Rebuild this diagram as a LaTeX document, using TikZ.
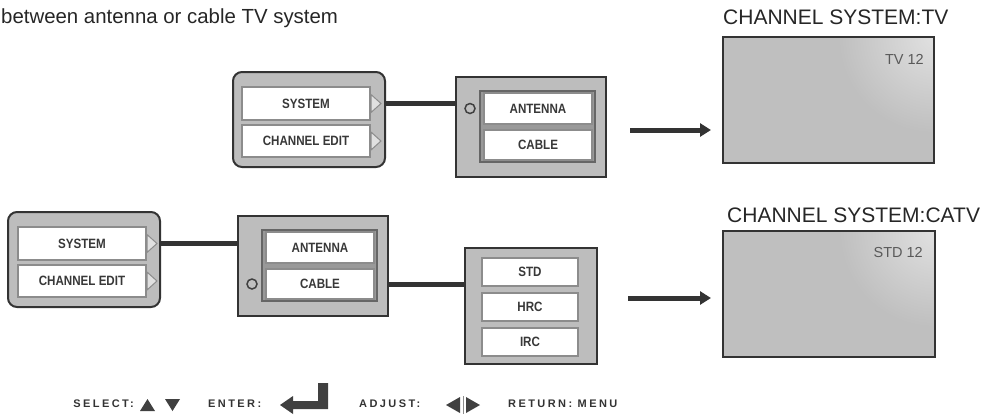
\documentclass[tikz,border=0pt]{standalone}
\usepackage{fontspec}
\setmainfont{Liberation Sans}
\newfontfamily\menufont[FakeStretch=0.86]{Liberation Sans}
\newfontfamily\keyfont[LetterSpace=22]{Liberation Sans}
\usetikzlibrary{arrows.meta,calc}
\begin{document}
\begin{tikzpicture}[x=1pt,y=-1pt,
  mbox/.style={draw=black!80,line width=2pt,fill=black!26,inner sep=0pt,outer sep=0pt},
  rbox/.style={mbox,rounded corners=9pt},
  item/.style={draw=black!45,line width=1.6pt,fill=white,inner sep=0pt,outer sep=0pt,
    font=\menufont\bfseries\fontsize{13.5}{13.5}\selectfont,text=black!78},
  inframe/.style={draw=black!60,line width=1.2pt,fill=black!40,inner sep=0pt,outer sep=0pt},
  selmark/.style={circle,draw=black!75,line width=1.5pt,fill=black!25,minimum size=10pt,inner sep=0pt},
  conn/.style={line width=5pt,draw=black!80},
  bigarrow/.style={line width=5pt,draw=black!80,-{Triangle[length=11pt,width=13pt]}},
  screen/.style={draw=black!80,line width=2pt,fill=black!25,inner sep=0pt,outer sep=0pt},
  title/.style={font=\fontsize{21}{21}\selectfont,text=black!85,inner sep=0pt,anchor=west},
  chan/.style={font=\fontsize{14.5}{14.5}\selectfont,text=black!65,inner sep=0pt,anchor=east},
  keytxt/.style={font=\keyfont\bfseries\fontsize{11}{11}\selectfont,text=black!80,inner sep=0pt,anchor=west},
  tri/.style={draw=black!45,fill=black!12,line width=1pt},
  icon/.style={fill=black!75}]
\useasboundingbox (0,0) rectangle (989,416);

% intro text
\node[anchor=west,inner sep=0pt,font=\fontsize{20.4}{20.4}\selectfont,text=black!85] (intro) at (1,18) {between antenna or cable TV system};

% ---------- top row ----------
\node[rbox,minimum width=152pt,minimum height=95pt] (b1) at (309,119.5) {};
\node[item,minimum width=128pt,minimum height=33pt] (b1sys) at (306,103.5) {SYSTEM};
\node[item,minimum width=128pt,minimum height=32pt] (b1ch) at (306,141) {CHANNEL EDIT};
\filldraw[tri] ($(b1sys.east)+(1,-9)$) -- ($(b1sys.east)+(11,0)$) -- ($(b1sys.east)+(1,9)$) -- cycle;
\filldraw[tri] ($(b1ch.east)+(1,-9)$) -- ($(b1ch.east)+(11,0)$) -- ($(b1ch.east)+(1,9)$) -- cycle;

\node[mbox,minimum width=150pt,minimum height=100pt] (b2) at (531,127) {};
\node[inframe,minimum width=115pt,minimum height=71pt] (b2f) at (537.5,126.5) {};
\node[item,minimum width=108pt,minimum height=31pt] (b2ant) at (538,108.5) {ANTENNA};
\node[item,minimum width=108pt,minimum height=30pt] (b2cab) at (538,145) {CABLE};
\node[selmark] (b2sel) at (470,108.5) {};

\draw[conn] (b1.east |- b1sys.center) -- (b2.west |- b1sys.center);

\node[screen,minimum width=211pt,minimum height=126pt] (s1) at (828.5,100) {};
\begin{scope}
  \clip (s1.south west) rectangle (s1.north east);
  \shade[inner color=black!12,outer color=black!25] (s1.north east) circle (95pt);
\end{scope}
\draw[black!80,line width=2pt] (s1.south west) rectangle (s1.north east);
\node[title] (t1) at (723,17) {CHANNEL SYSTEM:TV};
\node[chan] (tv12) at ($(s1.north east)+(-10,22)$) {TV 12};

\coordinate (a1s) at (630,130);
\draw[bigarrow] (a1s) -- ($(a1s -| s1.west)+(-12,0)$);

% ---------- bottom row ----------
\node[rbox,minimum width=152pt,minimum height=95pt] (b3) at (84,259.5) {};
\node[item,minimum width=128pt,minimum height=33pt] (b3sys) at (82,243.5) {SYSTEM};
\node[item,minimum width=128pt,minimum height=32pt] (b3ch) at (82,281) {CHANNEL EDIT};
\filldraw[tri] ($(b3sys.east)+(1,-9)$) -- ($(b3sys.east)+(11,0)$) -- ($(b3sys.east)+(1,9)$) -- cycle;
\filldraw[tri] ($(b3ch.east)+(1,-9)$) -- ($(b3ch.east)+(11,0)$) -- ($(b3ch.east)+(1,9)$) -- cycle;

\node[mbox,minimum width=150pt,minimum height=100pt] (b4) at (313,266) {};
\node[inframe,minimum width=115pt,minimum height=71pt] (b4f) at (319.5,265.5) {};
\node[item,minimum width=108pt,minimum height=31pt] (b4ant) at (320,247.5) {ANTENNA};
\node[item,minimum width=108pt,minimum height=30pt] (b4cab) at (320,284) {CABLE};
\node[selmark] (b4sel) at (252,284) {};

\draw[conn] (b3.east |- b3sys.center) -- (b4.west |- b3sys.center);

\node[mbox,minimum width=132pt,minimum height=116pt] (b5) at (531,306) {};
\node[item,minimum width=96pt,minimum height=28pt] (b5std) at (530,272) {STD};
\node[item,minimum width=96pt,minimum height=28pt] (b5hrc) at (530,307) {HRC};
\node[item,minimum width=96pt,minimum height=28pt] (b5irc) at (530,342) {IRC};

\draw[conn] (b4.east |- b4cab.center) -- (b5.west |- b4cab.center);

\node[screen,minimum width=212pt,minimum height=126pt] (s2) at (829,294) {};
\begin{scope}
  \clip (s2.south west) rectangle (s2.north east);
  \shade[inner color=black!12,outer color=black!25] (s2.north east) circle (95pt);
\end{scope}
\draw[black!80,line width=2pt] (s2.south west) rectangle (s2.north east);
\node[title] (t2) at (727,215) {CHANNEL SYSTEM:CATV};
\node[chan] (std12) at ($(s2.north east)+(-12,22)$) {STD 12};

\coordinate (a2s) at (628,298);
\draw[bigarrow] (a2s) -- ($(a2s -| s2.west)+(-12,0)$);

% ---------- key legend ----------
\node[keytxt,anchor=east] (ksel) at (134,404) {SELECT:};
\fill[icon] (140,411) -- (147.5,399) -- (155,411) -- cycle;
\fill[icon] (165,399) -- (180,399) -- (172.5,411) -- cycle;
\node[keytxt] (kent) at (208,404) {ENTER:};
\fill[icon] (328,383) -- (328,409) -- (293,409) -- (293,414) -- (280,405) -- (293,396) -- (293,401) -- (318,401) -- (318,383) -- cycle;
\node[keytxt] (kadj) at (359,404) {ADJUST:};
\fill[icon] (446,405) -- (460,397) -- (460,413) -- cycle;
\draw[black!45,line width=0.8pt] (463,396) -- (463,414);
\fill[icon] (466,397) -- (466,413) -- (480,405) -- cycle;
\node[keytxt] (kret) at (508,404) {RETURN: MENU};
\end{tikzpicture}
\end{document}
